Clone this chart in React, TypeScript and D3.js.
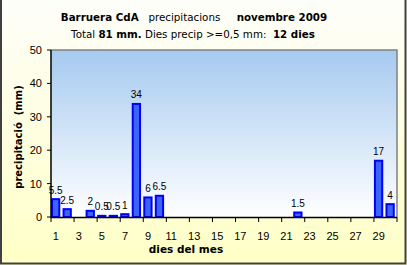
import React from "react";
import * as d3 from "d3";

const days = d3.range(1, 31);
const rainDays = [1, 2, 4, 5, 6, 7, 8, 9, 10, 22, 29, 30];
const rainValues = [5.5, 2.5, 2, 0.5, 0.5, 1, 34, 6, 6.5, 1.5, 17, 4];
const rainLabels = ["5.5", "2.5", "2", "0.5", "0.5", "1", "34", "6", "6.5", "1.5", "17", "4"];
const yTicks = [0, 10, 20, 30, 40, 50];
const xTickLabels = [1, 3, 5, 7, 9, 11, 13, 15, 17, 19, 21, 23, 25, 27, 29];

const W = 407, H = 265;
const L = 51, R = 397, T = 50, B = 217;
const FONT = "'Liberation Sans', Arial, sans-serif";
const TFONT = "'DejaVu Sans', Verdana, sans-serif";

export default function App() {
  const x = d3.scaleBand<number>().domain(days).range([L, R]).padding(0);
  const y = d3.scaleLinear().domain([0, 50]).range([B, T]);
  const bw = x.bandwidth();
  const barW = bw * 0.72;
  const bars = rainDays.map((d, i) => ({ d, v: rainValues[i], lab: rainLabels[i] }));
  const boundaryTicks = d3.range(0, 31, 2).map((i) => L + i * bw);

  return (
    <svg width={W} height={H} style={{ position: "absolute", left: 0, top: 0 }}>
      <defs>
        <linearGradient id="bg" x1="0" y1="0" x2="0" y2="1">
          <stop offset="0" stopColor="#fefefa" />
          <stop offset="1" stopColor="#ffffc6" />
        </linearGradient>
        <linearGradient id="pa" x1="0" y1="0" x2="0" y2="1">
          <stop offset="0" stopColor="#a6caf0" />
          <stop offset="1" stopColor="#ffffff" />
        </linearGradient>
      </defs>
      <rect x={0} y={0} width={W} height={H} fill="url(#bg)" />
      <path d={`M1,0 V${H - 1.5} H${W - 1.5} V0`} fill="none" stroke="#404040" strokeWidth={2} />
      <rect x={L} y={T} width={R - L} height={B - T} fill="url(#pa)" />
      <path d={`M${L},${T} H${R} V${B}`} fill="none" stroke="#808080" strokeWidth={1.5} />

      {bars.map((b) => {
        const x0 = (x(b.d) as number) + 0.5;
        const yTop = y(b.v);
        return (
          <g key={b.d}>
            <rect x={x0 + 0.5} y={yTop + 0.5} width={barW - 1} height={Math.max(B - yTop - 0.5, 0)}
              fill="#3c64f5" stroke="#0000ff" strokeWidth={2} />
            <text x={x0 + barW / 2} y={yTop - 5} textAnchor="middle" fontFamily={FONT} fontSize={10} fill="#000">
              {b.lab}
            </text>
          </g>
        );
      })}

      <line x1={L} y1={T} x2={L} y2={B + 0.5} stroke="#000" strokeWidth={1.5} />
      <line x1={L} y1={B + 0.5} x2={R} y2={B + 0.5} stroke="#000" strokeWidth={1.5} />
      {yTicks.map((t) => (
        <g key={t}>
          <line x1={L - 4} x2={L} y1={y(t)} y2={y(t)} stroke="#000" />
          <text x={L - 9} y={y(t) + 4} textAnchor="end" fontFamily={FONT} fontSize={11} fill="#000">{t}</text>
        </g>
      ))}
      {boundaryTicks.map((tx, i) => (
        <line key={i} x1={tx} x2={tx} y1={B} y2={B + 5} stroke="#000" />
      ))}
      {xTickLabels.map((d) => (
        <text key={d} x={(x(d) as number) + bw / 2 - 1} y={240} textAnchor="middle" fontFamily={FONT} fontSize={11} fill="#000">{d}</text>
      ))}

      <text x={186} y={253} textAnchor="middle" fontFamily={TFONT} fontSize={10.5} fontWeight="bold" fill="#000">dies del mes</text>
      <text transform={`translate(22,137) rotate(-90)`} textAnchor="middle" fontFamily={TFONT} fontSize={10} fontWeight="bold" fill="#000" style={{ whiteSpace: "pre" }}>
        precipitació  (mm)
      </text>

      <text x={194} y={21} textAnchor="middle" fontFamily={TFONT} fontSize={10.3} fill="#000" style={{ whiteSpace: "pre" }}>
        <tspan fontWeight="bold">Barruera CdA</tspan>
        <tspan>{"   precipitacions     "}</tspan>
        <tspan fontWeight="bold">novembre 2009</tspan>
      </text>
      <text x={193} y={38} textAnchor="middle" fontFamily={TFONT} fontSize={10.3} fill="#000" style={{ whiteSpace: "pre" }}>
        <tspan>{"Total "}</tspan>
        <tspan fontWeight="bold">81 mm.</tspan>
        <tspan>{" Dies precip >=0,5 mm:  "}</tspan>
        <tspan fontWeight="bold">12 dies</tspan>
      </text>
    </svg>
  );
}
